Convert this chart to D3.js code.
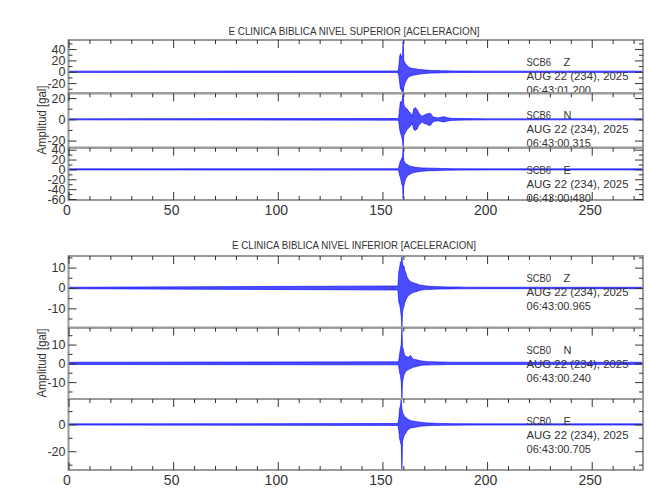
<!DOCTYPE html>
<html><head><meta charset="utf-8">
<script src="https://cdn.jsdelivr.net/npm/d3@7"></script>
<style>body{margin:0;background:#fff}</style>
</head><body>
<script>
// time (s) of envelope samples
const times = [0, 157.4, 157.8, 158.2, 158.6, 159.0, 159.3, 159.6, 159.9, 160.2, 160.6, 161.0, 161.8, 162.6, 163.4, 164.2, 165.0, 165.8, 166.6, 167.4, 168.2, 169.0, 170.0, 171.0, 172.0, 173.0, 174.0, 175.0, 176.5, 178.0, 179.5, 181.0, 183.0, 186.0, 190.0, 200.0, 220.0, 275.0];

// NIVEL SUPERIOR (SCB6) envelopes, gal
const supZHi = [1.1, 1.4, 8, 26, 32, 24, 28, 30, 56, 20, 17, 14, 11, 8, 6.6, 6, 5.4, 5.4, 4.5, 4, 4, 3.6, 3, 3.2, 2.6, 2.4, 2.4, 2.2, 2, 1.8, 1.6, 1.6, 1.5, 1.4, 1.3, 1.1, 1.1, 1.1];
const supZLo = [-1.1, -1.4, -6, -18, -31, -28, -35, -30, -38, -28, -22, -18, -12.7, -9, -7.8, -6.5, -6, -5.4, -5, -4.5, -4, -3.6, -3.2, -3, -2.6, -2.4, -2.4, -2.2, -2, -1.8, -1.6, -1.6, -1.5, -1.4, -1.3, -1.1, -1.1, -1.1];
const supNHi = [0.5, 0.8, 2, 10, 16.7, 15, 17, 20, 24.5, 14, 12, 11, 9.7, 7.5, 5.9, 2.8, 10, 11, 9, 5.9, 4, 2.8, 4, 5, 5.6, 5.6, 2.5, 1.9, 1.3, 2, 2.5, 1.5, 1, 0.8, 0.7, 0.5, 0.5, 0.5];
const supNLo = [-0.5, -0.8, -2, -9, -12.7, -15, -17.4, -20, -26.7, -15, -14.3, -12, -9.6, -8, -6.5, -3.4, -9.6, -10.5, -9, -5.6, -4, -2.5, -4, -4.3, -5.6, -5.6, -2.5, -1.9, -1.3, -2, -2.5, -1.5, -1, -0.8, -0.7, -0.5, -0.5, -0.5];
const supEHi = [1.1, 1.4, 4, 12, 16.7, 20, 23.5, 22, 44, 18, 15, 12, 9.9, 8, 6.5, 5.5, 5, 4.4, 4, 3.6, 3.3, 3, 3, 2.8, 2.6, 2.5, 2.4, 2.4, 2.2, 2, 1.8, 1.6, 1.5, 1.4, 1.3, 1.1, 1.1, 1.1];
const supELo = [-1.1, -1.4, -4, -12, -17, -24, -31, -30, -62, -34, -26, -20.7, -14, -11, -9.2, -7.5, -6.5, -5.8, -5, -4.5, -4, -3.7, -3.4, -3.1, -2.8, -2.6, -2.5, -2.5, -2.3, -2, -1.8, -1.6, -1.5, -1.4, -1.3, -1.1, -1.1, -1.1];

// NIVEL INFERIOR (SCB0) envelopes, gal
const infZHi = [0.35, 1, 7.8, 10, 12.7, 13, 15.7, 12, 10, 11, 9, 7.8, 5.3, 4, 3.1, 2.8, 2.5, 2.2, 2, 1.6, 1.4, 1.3, 1.1, 1, 0.9, 0.8, 0.75, 0.7, 0.65, 0.6, 0.55, 0.5, 0.5, 0.45, 0.4, 0.35, 0.35, 0.35];
const infZLo = [-0.35, -1, -7, -8, -10.4, -14, -19.5, -12, -10, -9.6, -7.5, -6.3, -4.6, -3.6, -3, -2.5, -2.1, -1.9, -1.7, -1.3, -1.1, -1, -0.8, -0.8, -0.7, -0.7, -0.65, -0.6, -0.55, -0.5, -0.5, -0.45, -0.45, -0.4, -0.4, -0.35, -0.35, -0.35];
const infNHi = [0.6, 0.8, 1.5, 5, 7.8, 10, 19, 9, 7.8, 6, 4.3, 4, 3.4, 3.2, 4.3, 2.8, 2.1, 2, 1.8, 1.6, 1.4, 1.2, 1.1, 1, 0.9, 0.9, 0.8, 0.8, 0.75, 0.7, 0.7, 0.65, 0.6, 0.6, 0.6, 0.6, 0.6, 0.6];
const infNLo = [-0.6, -0.8, -1.5, -5, -6.4, -10, -19, -10, -8.2, -6.5, -5.5, -4.5, -3.7, -3.2, -2.8, -2.4, -2, -1.8, -1.6, -1.4, -1.2, -1, -0.9, -0.9, -0.85, -0.8, -0.8, -0.8, -0.75, -0.7, -0.7, -0.65, -0.6, -0.6, -0.6, -0.6, -0.6, -0.6];
const infEHi = [0.45, 0.7, 4, 11.7, 14, 19, 12, 9.2, 8, 7, 6, 5.5, 4.2, 3.5, 3, 2.6, 2.4, 2.2, 2, 1.8, 1.6, 1.5, 1.3, 1.2, 1.1, 1, 1, 0.9, 0.8, 0.75, 0.7, 0.65, 0.6, 0.6, 0.55, 0.45, 0.45, 0.45];
const infELo = [-0.45, -0.7, -4, -10.7, -13, -15.7, -34, -13, -11, -9, -7.5, -7, -4.5, -3.5, -2.7, -2.4, -2.2, -2, -1.8, -1.6, -1.4, -1.2, -1.1, -1, -0.9, -0.8, -0.8, -0.75, -0.7, -0.65, -0.6, -0.6, -0.55, -0.55, -0.5, -0.45, -0.45, -0.45];

const xTickLabels = [0, 50, 100, 150, 200, 250];
const xMinorStep = 10;
const titles = ["E CLINICA BIBLICA NIVEL SUPERIOR [ACELERACION]", "E CLINICA BIBLICA NIVEL INFERIOR [ACELERACION]"];
const stationsSup = ["SCB6", "SCB6", "SCB6"];
const stationsInf = ["SCB0", "SCB0", "SCB0"];
const components = ["Z", "N", "E"];
const dateLabel = "AUG 22 (234), 2025";
const timesSup = ["06:43:01.200", "06:43:00.315", "06:43:00.480"];
const timesInf = ["06:43:00.965", "06:43:00.240", "06:43:00.705"];
const yLabel = "Amplitud [gal]";

const W = 650, H = 500;
const FONT = "'Liberation Sans', Arial, sans-serif";
const TXT = "#333";
const svg = d3.select("body").append("svg").attr("width", W).attr("height", H);
svg.append("rect").attr("width", W).attr("height", H).attr("fill", "#fff");
const defs = svg.append("defs");

const x = d3.scaleLinear().domain([0, 274.5]).range([68.5, 643]);

const plots = [
  { title: titles[0], titleY: 34.5, titleLen: 251, bounds: [40, 93.3, 147.7, 200],
    traces: [
      { st: stationsSup[0], comp: components[0], time: timesSup[0], hi: supZHi, lo: supZLo, major: 20, minor: 10 },
      { st: stationsSup[1], comp: components[1], time: timesSup[1], hi: supNHi, lo: supNLo, major: 20, minor: 10 },
      { st: stationsSup[2], comp: components[2], time: timesSup[2], hi: supEHi, lo: supELo, major: 20, minor: 10 } ] },
  { title: titles[1], titleY: 249, titleLen: 244, bounds: [256, 327.7, 399, 470],
    traces: [
      { st: stationsInf[0], comp: components[0], time: timesInf[0], hi: infZHi, lo: infZLo, major: 10, minor: 5 },
      { st: stationsInf[1], comp: components[1], time: timesInf[1], hi: infNHi, lo: infNLo, major: 10, minor: 5 },
      { st: stationsInf[2], comp: components[2], time: timesInf[2], hi: infEHi, lo: infELo, major: 20, minor: 10 } ] }
];

const x0 = x.range()[0], x1 = x.range()[1];
const xMinor = d3.range(0, x.domain()[1] + 1e-9, xMinorStep).filter(v => !xTickLabels.includes(v));

function cleanAxis(g) {
  g.select(".domain").remove();
  g.selectAll(".tick line").attr("stroke", "#333").attr("stroke-width", 1);
}

plots.forEach((p, pi) => {
  svg.append("text").attr("x", 354).attr("y", p.titleY).attr("text-anchor", "middle")
    .attr("font-family", FONT).attr("font-size", 11.5).attr("fill", TXT)
    .attr("textLength", p.titleLen).attr("lengthAdjust", "spacingAndGlyphs").text(p.title);

  const cy = (p.bounds[0] + p.bounds[3]) / 2;
  svg.append("text").attr("transform", `translate(46,${cy}) rotate(-90)`).attr("text-anchor", "middle")
    .attr("font-family", FONT).attr("font-size", 12).attr("fill", TXT)
    .attr("textLength", 69).attr("lengthAdjust", "spacingAndGlyphs").text(yLabel);

  p.traces.forEach((tr, ti) => {
    const top = p.bounds[ti], bot = p.bounds[ti + 1];
    const ymin = d3.min(tr.lo), ymax = d3.max(tr.hi);
    const y = d3.scaleLinear().domain([ymin, ymax]).range([bot, top]);
    const rows = times.map((t, i) => ({ t, hi: tr.hi[i], lo: tr.lo[i] }));

    const cid = `clip${pi}${ti}`;
    defs.append("clipPath").attr("id", cid).append("rect")
      .attr("x", x0).attr("y", top).attr("width", x1 - x0).attr("height", bot - top);

    const area = d3.area().x(d => x(d.t)).y0(d => y(d.lo)).y1(d => y(d.hi));
    svg.append("path").datum(rows).attr("clip-path", `url(#${cid})`)
      .attr("d", area).attr("fill", "#1a1aff").attr("fill-opacity", 0.78)
      .attr("stroke", "#0000ff").attr("stroke-width", 0.6).attr("stroke-linejoin", "round");

    svg.append("rect").attr("x", x0).attr("y", top).attr("width", x1 - x0).attr("height", bot - top)
      .attr("fill", "none").attr("stroke", "#9a9a9a").attr("stroke-width", 2);

    const majors = d3.range(Math.ceil(ymin / tr.major) * tr.major, ymax + 1e-9, tr.major);
    const minors = d3.range(Math.ceil(ymin / tr.minor) * tr.minor, ymax + 1e-9, tr.minor).filter(v => !majors.includes(v));
    svg.append("g").attr("transform", `translate(${x0},0)`)
      .call(d3.axisLeft(y).tickValues(majors).tickSizeInner(-8).tickSizeOuter(0).tickPadding(3).tickFormat(d => String(d)))
      .call(cleanAxis)
      .call(g => g.selectAll("text").attr("font-family", FONT).attr("font-size", 12.5).attr("fill", TXT));
    svg.append("g").attr("transform", `translate(${x0},0)`)
      .call(d3.axisLeft(y).tickValues(minors).tickSizeInner(-4).tickSizeOuter(0).tickFormat(""))
      .call(cleanAxis);
    svg.append("g").attr("transform", `translate(${x1},0)`)
      .call(d3.axisRight(y).tickValues(majors).tickSizeInner(-8).tickSizeOuter(0).tickFormat(""))
      .call(cleanAxis);
    svg.append("g").attr("transform", `translate(${x1},0)`)
      .call(d3.axisRight(y).tickValues(minors).tickSizeInner(-4).tickSizeOuter(0).tickFormat(""))
      .call(cleanAxis);

    svg.append("g").attr("transform", `translate(0,${top})`)
      .call(d3.axisTop(x).tickValues(xTickLabels).tickSizeInner(-8).tickSizeOuter(0).tickFormat(""))
      .call(cleanAxis);
    svg.append("g").attr("transform", `translate(0,${top})`)
      .call(d3.axisTop(x).tickValues(xMinor).tickSizeInner(-4).tickSizeOuter(0).tickFormat(""))
      .call(cleanAxis);

    const ann = svg.append("g").attr("font-family", FONT).attr("font-size", 11).attr("fill", TXT);
    ann.append("text").attr("x", 526.5).attr("y", top + 26).attr("textLength", 24.5).attr("lengthAdjust", "spacingAndGlyphs").text(tr.st);
    ann.append("text").attr("x", 563.5).attr("y", top + 26).text(tr.comp);
    ann.append("text").attr("x", 526.5).attr("y", top + 40).attr("textLength", 102).attr("lengthAdjust", "spacingAndGlyphs").text(dateLabel);
    ann.append("text").attr("x", 526.5).attr("y", top + 54).attr("textLength", 64.5).attr("lengthAdjust", "spacingAndGlyphs").text(tr.time);
  });

  const yb = p.bounds[3];
  svg.append("g").attr("transform", `translate(0,${yb})`)
    .call(d3.axisBottom(x).tickValues(xTickLabels).tickSizeInner(-8).tickSizeOuter(0).tickPadding(5).tickFormat(d => String(d)))
    .call(cleanAxis)
    .call(g => g.selectAll("text").attr("font-family", FONT).attr("font-size", 14).attr("fill", TXT).attr("dx", -2));
  svg.append("g").attr("transform", `translate(0,${yb})`)
    .call(d3.axisBottom(x).tickValues(xMinor).tickSizeInner(-4).tickSizeOuter(0).tickFormat(""))
    .call(cleanAxis);
});
</script>
</body></html>
